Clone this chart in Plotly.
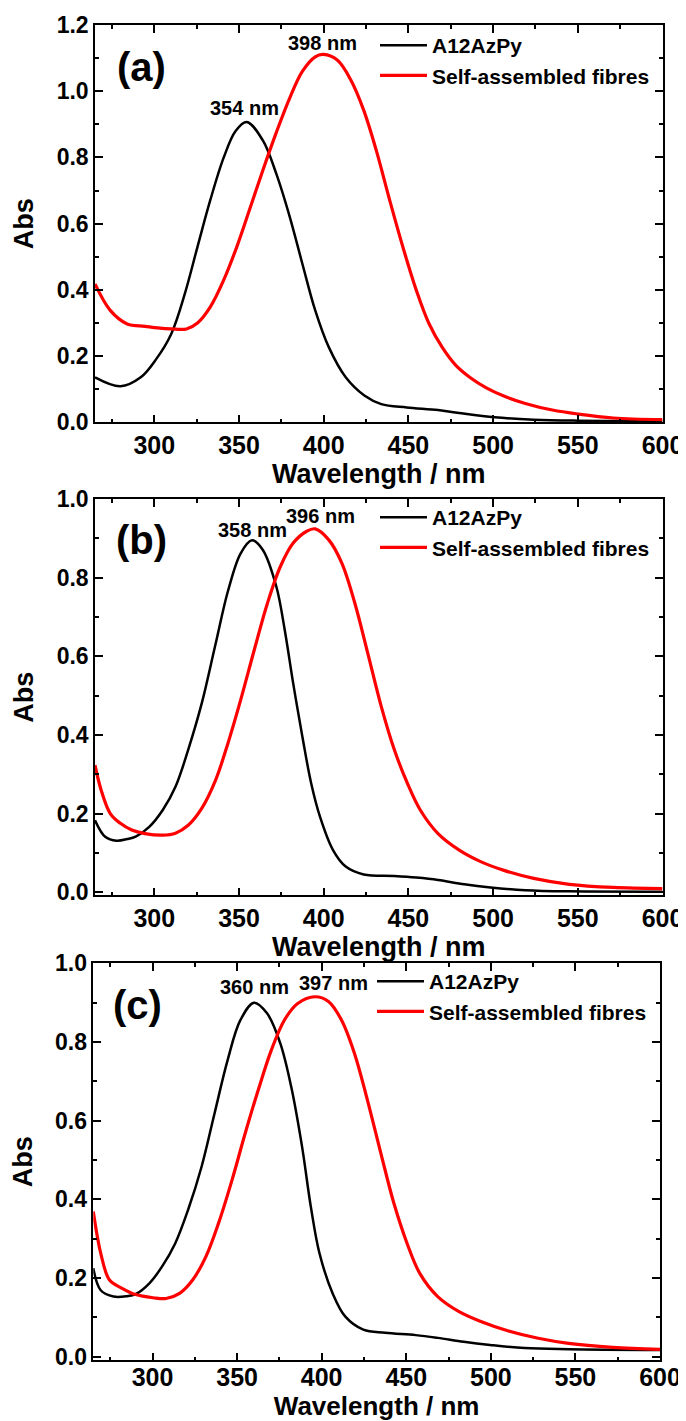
import plotly.graph_objects as go

W, H = 686, 1421
OFF = 8  # the page body has an 8px margin; positions below are measured on the page

# ---------------- data ----------------
# Panel (a)
a_black_x = [265, 280, 292, 301, 310, 318, 325.5, 333, 341, 348, 354.6, 364, 372, 380, 387.4, 395, 403, 413, 424, 434, 449, 467.5, 480, 501, 524, 550, 575, 600]
a_black_y = [0.136, 0.109, 0.136, 0.19, 0.267, 0.388, 0.53, 0.67, 0.80, 0.88, 0.907, 0.852, 0.751, 0.62, 0.479, 0.338, 0.227, 0.136, 0.081, 0.055, 0.045, 0.037, 0.028, 0.015, 0.008, 0.005, 0.004, 0.004]
a_red_x = [265, 274, 284, 294.5, 302, 310, 319, 325.5, 333, 341, 348.7, 356.4, 364, 372, 380, 387.4, 395, 399.8, 408, 416, 423.6, 431, 439, 447, 454.6, 462, 470, 478, 487, 496, 506, 519, 535, 550, 571, 600]
a_red_y = [0.418, 0.338, 0.297, 0.29, 0.285, 0.282, 0.282, 0.30, 0.348, 0.43, 0.53, 0.645, 0.76, 0.875, 0.98, 1.06, 1.104, 1.111, 1.094, 1.034, 0.943, 0.822, 0.67, 0.525, 0.40, 0.30, 0.226, 0.172, 0.133, 0.104, 0.08, 0.057, 0.037, 0.025, 0.013, 0.008]

# Panel (b)
b_black_x = [265, 271, 277.7, 284, 289, 297, 305, 312.5, 320, 328, 336, 343.5, 351, 357.7, 364, 372, 377, 382, 387.4, 392.6, 397.8, 405.5, 413, 423.6, 441.7, 454.6, 467.5, 483, 498.5, 519, 545, 600]
b_black_y = [0.183, 0.141, 0.131, 0.135, 0.141, 0.166, 0.209, 0.268, 0.362, 0.48, 0.628, 0.766, 0.862, 0.895, 0.871, 0.778, 0.667, 0.531, 0.396, 0.277, 0.192, 0.107, 0.065, 0.045, 0.041, 0.037, 0.031, 0.020, 0.012, 0.005, 0.002, 0.001]
b_red_x = [265, 268.6, 274, 280, 286.7, 294.5, 305, 312.5, 320, 328, 336, 343.5, 351, 359, 366.8, 374.5, 382, 390, 395, 403, 410.7, 418.4, 426, 434, 441.7, 449.4, 457, 467.5, 480, 493, 506, 524, 545, 571, 600]
b_red_y = [0.323, 0.26, 0.20, 0.175, 0.158, 0.149, 0.145, 0.150, 0.170, 0.213, 0.283, 0.379, 0.489, 0.616, 0.735, 0.829, 0.888, 0.918, 0.924, 0.896, 0.837, 0.735, 0.608, 0.472, 0.362, 0.277, 0.209, 0.149, 0.107, 0.077, 0.056, 0.035, 0.020, 0.012, 0.009]

# Panel (c)
c_black_x = [265, 269.4, 277, 285, 290, 298, 305.6, 313.4, 321, 329, 336.7, 344.4, 352, 360, 367.7, 375.5, 382, 388.4, 393.6, 398.7, 406.5, 414, 424.6, 437.5, 455.6, 468.6, 484, 499.6, 520, 546, 600]
c_black_y = [0.225, 0.169, 0.153, 0.154, 0.159, 0.186, 0.229, 0.288, 0.373, 0.483, 0.619, 0.754, 0.856, 0.90, 0.873, 0.797, 0.686, 0.534, 0.381, 0.263, 0.161, 0.102, 0.069, 0.061, 0.055, 0.048, 0.038, 0.030, 0.022, 0.019, 0.017]
c_red_x = [265, 269.4, 274.6, 282, 290, 300.4, 308, 316, 323.7, 331.5, 339, 347, 354.8, 362.5, 370.3, 378, 385.8, 396, 404, 411.7, 419.4, 427, 435, 442.7, 450.5, 458, 468.6, 481.5, 494.5, 510, 528, 546, 572, 600]
c_red_y = [0.369, 0.263, 0.195, 0.174, 0.158, 0.150, 0.148, 0.161, 0.195, 0.254, 0.339, 0.449, 0.568, 0.678, 0.78, 0.856, 0.898, 0.915, 0.903, 0.856, 0.771, 0.653, 0.517, 0.39, 0.288, 0.212, 0.153, 0.114, 0.089, 0.066, 0.047, 0.034, 0.024, 0.019]

series_names = ["A12AzPy", "Self-assembled fibres"]
panel_labels = ["(a)", "(b)", "(c)"]
peak_labels = [("354 nm", "398 nm"), ("358 nm", "396 nm"), ("360 nm", "397 nm")]
x_tick_vals = [300, 350, 400, 450, 500, 550, 600]
y_max = [1.2, 1.0, 1.0]
y_min = [0.0, -0.008, -0.009]
x_range = [265, 600]

# ---------------- layout geometry (page pixels) ----------------
panels_px = [  # left, right, top, bottom
    (95, 662.5, 25, 422.3),
    (95, 662.5, 499, 895.3),
    (93.3, 660, 963.3, 1360.3),
]
label_px = [(141, 67), (141.6, 540), (137, 1005)]
peak1_px = [(244, 108), (252, 530), (254, 987)]
peak2_px = [(322, 43), (320, 516), (333, 983)]
legend_px = [(375, 25), (375, 497), (372, 961)]
xtitle_standoff = [5, 5, 0]
xtitle_size = [27, 27, 26]
xlabel_standoff = [0, 0, -6]

FONT = "Liberation Sans, Arial, sans-serif"
BLACK = "#000000"
RED = "#FF0000"

data = [
    (a_black_x, a_black_y, a_red_x, a_red_y),
    (b_black_x, b_black_y, b_red_x, b_red_y),
    (c_black_x, c_black_y, c_red_x, c_red_y),
]

def fx(px):
    return (px - OFF) / W

def fy(py):
    return (H - (py - OFF)) / H

fig = go.Figure()
layout = dict(
    width=W, height=H,
    margin=dict(l=0, r=0, t=0, b=0, autoexpand=False),
    paper_bgcolor="white", plot_bgcolor="white",
    font=dict(family=FONT, color="black", weight="bold"),
    showlegend=True,
)
annotations = []

def px2data(px, py, i):
    l, r, t, b = panels_px[i]
    xv = x_range[0] + (px - l) / (r - l) * (x_range[1] - x_range[0])
    yv = y_min[i] + (b - py) / (b - t) * (y_max[i] - y_min[i])
    return xv, yv

for i in range(3):
    sfx = "" if i == 0 else str(i + 1)
    xa, ya = "x" + sfx, "y" + sfx
    leg = "legend" + sfx
    bx, by, rx, ry = data[i]
    fig.add_trace(go.Scatter(x=bx, y=by, mode="lines", name=series_names[0],
                             line=dict(color=BLACK, width=2.5, shape="spline", smoothing=1.0),
                             xaxis=xa, yaxis=ya, legend=leg))
    fig.add_trace(go.Scatter(x=rx, y=ry, mode="lines", name=series_names[1],
                             line=dict(color=RED, width=3.2, shape="spline", smoothing=1.0),
                             xaxis=xa, yaxis=ya, legend=leg))
    l, r, t, b = panels_px[i]
    common = dict(showline=True, linecolor="black", linewidth=1.5, mirror="allticks",
                  ticks="inside", tickcolor="black", tickwidth=1.5, ticklen=8,
                  showgrid=False, zeroline=False, automargin=False)
    layout["xaxis" + sfx] = dict(
        domain=[fx(l), fx(r)], anchor=ya, range=x_range,
        tickvals=x_tick_vals, ticktext=[str(v) for v in x_tick_vals],
        ticklabelstandoff=xlabel_standoff[i],
        minor=dict(dtick=25, tick0=250, ticks="inside", ticklen=4, tickcolor="black", tickwidth=1.5),
        tickfont=dict(size=25, family=FONT, weight="bold"),
        title=dict(text="Wavelength / nm", font=dict(size=xtitle_size[i], family=FONT, weight="bold"),
                   standoff=xtitle_standoff[i]),
        **common)
    layout["yaxis" + sfx] = dict(
        domain=[fy(b), fy(t)], anchor=xa, range=[y_min[i], y_max[i]],
        tickvals=[v / 10 for v in range(0, int(round(y_max[i] * 10)) + 1, 2)],
        tickformat=".1f",
        minor=dict(dtick=0.1, tick0=0, ticks="inside", ticklen=4, tickcolor="black", tickwidth=1.5),
        tickfont=dict(size=23, family=FONT, weight="bold"),
        title=dict(text="Abs", font=dict(size=27, family=FONT, weight="bold"), standoff=15),
        **common)
    lx, ly = legend_px[i]
    layout[leg] = dict(x=fx(lx), y=fy(ly), xanchor="left", yanchor="top",
                       bgcolor="rgba(0,0,0,0)", borderwidth=0,
                       font=dict(size=21, family=FONT, weight="bold"),
                       itemwidth=47, tracegroupgap=0)
    for (txt, (px, py), size) in [(panel_labels[i], label_px[i], 40),
                                  (peak_labels[i][0], peak1_px[i], 20),
                                  (peak_labels[i][1], peak2_px[i], 20)]:
        xv, yv = px2data(px, py, i)
        annotations.append(dict(x=xv, y=yv, xref=xa, yref=ya, text=txt, showarrow=False,
                                xanchor="center", yanchor="middle",
                                font=dict(size=size, family=FONT, weight="bold", color="black")))

layout["annotations"] = annotations
fig.update_layout(**layout)
fig.write_html("out.html")
